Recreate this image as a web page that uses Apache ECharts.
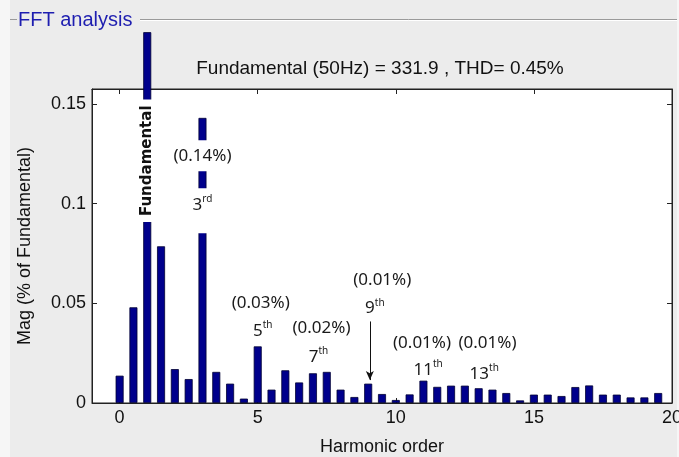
<!DOCTYPE html>
<html>
<head>
<meta charset="utf-8">
<script src="https://cdn.jsdelivr.net/npm/echarts@6/dist/echarts.min.js"></script>
<style>
  html, body { margin: 0; padding: 0; background: #f6f6f6; }
  #chart { width: 679px; height: 457px; }
</style>
</head>
<body>
<div id="chart"></div>
<script>
// ---- data ----
const harmonicOrders = [0, 0.5, 1, 1.5, 2, 2.5, 3, 3.5, 4, 4.5, 5, 5.5, 6, 6.5, 7, 7.5, 8, 8.5, 9, 9.5,
                        10, 10.5, 11, 11.5, 12, 12.5, 13, 13.5, 14, 14.5, 15, 15.5, 16, 16.5, 17, 17.5, 18, 18.5, 19, 19.5];
const magnitudes = [0.0137, 0.048, 0.186, 0.0786, 0.017, 0.012, 0.143, 0.0156, 0.0097, 0.0022,
                    0.0284, 0.0067, 0.0164, 0.0103, 0.0149, 0.0156, 0.0067, 0.003, 0.0097, 0.0045,
                    0.0015, 0.0043, 0.0112, 0.0081, 0.0087, 0.0087, 0.0074, 0.0067, 0.005, 0.0013,
                    0.0042, 0.0042, 0.0035, 0.008, 0.0088, 0.0042, 0.0042, 0.0028, 0.0028, 0.005];
const xTickValues = [0, 5, 10, 15, 20];
const yTickValues = [0, 0.05, 0.1, 0.15];
const panelTitle = 'FFT analysis';
const chartTitle = 'Fundamental (50Hz) = 331.9 , THD= 0.45%';
const xAxisTitle = 'Harmonic order';
const yAxisTitle = 'Mag (% of Fundamental)';
const annotationTexts = ['Fundamental', '(0.14%)', '3rd', '(0.03%)', '5th', '(0.02%)', '7th',
                         '(0.01%)', '9th', '(0.01%)', '11th', '(0.01%)', '13th'];

// ---- build ----
const chart = echarts.init(document.getElementById('chart'), null, { renderer: 'canvas' });
const tickFont = 'Liberation Sans, Arial, sans-serif';
const annoFont = 'Noto Sans, sans-serif';

const barData = harmonicOrders.map((h, i) => [h, magnitudes[i]]);

function ordinalRich(txt) {
  const m = txt.match(/^(\d+)(st|nd|rd|th)$/);
  return '{b|' + m[1] + '}{s|' + m[2] + '}';
}
const ordRich = {
  b: { fontSize: 17, fontFamily: annoFont, color: '#1a1a1a', lineHeight: 19, verticalAlign: 'bottom' },
  s: { fontSize: 10, fontFamily: annoFont, color: '#1a1a1a', lineHeight: 11, verticalAlign: 'top' }
};

// anchors (data coordinates) for annotation labels
const anchors = [
  [1, 0.1215], [3, 0.124], [3, 0.0964], [5.11, 0.0499], [5.18, 0.0366], [7.31, 0.0375], [7.2, 0.0237],
  [9.51, 0.0618], [9.24, 0.048], [10.95, 0.030], [11.17, 0.0172], [13.32, 0.030], [13.2, 0.0152]
];

const annoData = annotationTexts.map((t, i) => {
  const item = { value: anchors[i] };
  if (i === 0) {
    item.label = {
      formatter: t, rotate: 90, fontFamily: 'DejaVu Sans, sans-serif', fontWeight: 'bold',
      fontSize: 15, color: '#111', backgroundColor: '#fff', padding: [1, 6, 1, 6]
    };
  } else if (/^\d/.test(t)) {
    item.label = { formatter: ordinalRich(t), rich: ordRich };
    if (i === 2) { item.label.backgroundColor = '#fff'; item.label.padding = [6, 3, 20, 3]; }
  } else {
    item.label = { formatter: t, fontFamily: annoFont, fontSize: 17, color: '#1a1a1a' };
    if (i === 1) { item.label.backgroundColor = '#fff'; item.label.padding = [7, 2, 7, 2]; }
  }
  return item;
});

const axisLineStyle = { show: true, onZero: false, lineStyle: { color: '#222' } };

const option = {
  backgroundColor: '#ececec',
  animation: false,
  graphic: [
    { type: 'rect', shape: { x: 0, y: 0, width: 10, height: 457 }, style: { fill: '#f6f6f6' }, z: 0 },
    { type: 'rect', shape: { x: 677, y: 0, width: 2, height: 457 }, style: { fill: '#f6f6f6' }, z: 0 },
    { type: 'line', shape: { x1: 10, y1: 19.5, x2: 17, y2: 19.5 }, style: { stroke: '#9a9a9a', lineWidth: 1 } },
    { type: 'line', shape: { x1: 140, y1: 19.5, x2: 677, y2: 19.5 }, style: { stroke: '#9a9a9a', lineWidth: 1 } },
    { type: 'line', shape: { x1: 140, y1: 20.5, x2: 677, y2: 20.5 }, style: { stroke: '#ffffff', lineWidth: 1 } },
    { type: 'text', x: 18, y: 20, style: { text: panelTitle, fill: '#1e1eb0', font: '20px Liberation Sans, Arial, sans-serif', textVerticalAlign: 'middle' } },
    { type: 'text', x: 380, y: 69, style: { text: chartTitle, fill: '#111', font: '19px Liberation Sans, Arial, sans-serif', textAlign: 'center', textVerticalAlign: 'middle' } }
  ],
  grid: { left: 92, right: 7, top: 89, bottom: 54, show: true, backgroundColor: '#ffffff', borderColor: '#222', borderWidth: 1,
          containLabel: false, outerBoundsMode: 'none' },
  xAxis: [
    {
      type: 'value', min: -1, max: 20, position: 'bottom',
      name: xAxisTitle, nameLocation: 'middle', nameGap: 35,
      nameTextStyle: { fontFamily: tickFont, fontSize: 18, color: '#111' },
      axisLine: axisLineStyle,
      axisTick: { show: true, inside: true, length: 5, customValues: xTickValues, lineStyle: { color: '#222' } },
      axisLabel: { customValues: xTickValues, fontFamily: tickFont, fontSize: 18, color: '#111', margin: 6 },
      splitLine: { show: false }
    },
    {
      type: 'value', min: -1, max: 20, position: 'top',
      axisLine: axisLineStyle,
      axisTick: { show: true, inside: true, length: 5, customValues: xTickValues, lineStyle: { color: '#222' } },
      axisLabel: { show: false },
      splitLine: { show: false }
    }
  ],
  yAxis: [
    {
      type: 'value', min: 0, max: 0.1575, interval: 0.05, position: 'left',
      name: yAxisTitle, nameLocation: 'middle', nameGap: 58,
      nameTextStyle: { fontFamily: tickFont, fontSize: 18, color: '#111' },
      axisLine: axisLineStyle,
      axisTick: { show: true, inside: true, length: 5, customValues: yTickValues, lineStyle: { color: '#222' } },
      axisLabel: { customValues: yTickValues, fontFamily: tickFont, fontSize: 18, color: '#111', margin: 6,
                   verticalAlignMinLabel: 'middle', verticalAlignMaxLabel: 'middle',
                   formatter: v => String(+v.toFixed(2)) },
      splitLine: { show: false }
    },
    {
      type: 'value', min: 0, max: 0.1575, interval: 0.05, position: 'right',
      axisLine: axisLineStyle,
      axisTick: { show: true, inside: true, length: 5, customValues: yTickValues, lineStyle: { color: '#222' } },
      axisLabel: { show: false },
      splitLine: { show: false }
    }
  ],
  series: [
    {
      type: 'bar', name: 'Mag', data: barData, barWidth: 8, clip: false, z: 2,
      itemStyle: { color: '#00008c', borderColor: '#000033', borderWidth: 0.8 }
    },
    {
      type: 'scatter', data: annoData, symbolSize: 0, z: 5, silent: true,
      itemStyle: { opacity: 1 },
      label: { show: true, position: 'inside' },
      emphasis: { disabled: true }
    },
    {
      type: 'scatter', data: [], z: 6, silent: true,
      markLine: {
        silent: true, symbol: ['none', 'arrow'], symbolSize: [6, 9], animation: false,
        label: { show: false },
        lineStyle: { color: '#111', width: 1, type: 'solid' },
        emphasis: { disabled: true },
        data: [
          [{ coord: [3, 0.0952] }, { coord: [3, 0.0868] }],
          [{ coord: [9.06, 0.0409] }, { coord: [9.06, 0.0115] }]
        ]
      }
    }
  ]
};
chart.setOption(option);
</script>
</body>
</html>
